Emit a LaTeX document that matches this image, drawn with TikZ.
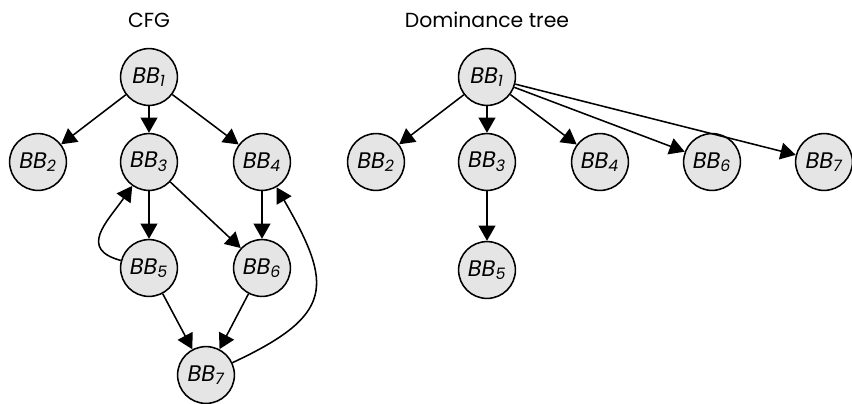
\documentclass[tikz,border=0pt]{standalone}
\usepackage{fontspec}
\setmainfont{Poppins}
\usepackage{tikz}
\usetikzlibrary{arrows.meta}

\tikzset{
  bb/.style={circle, draw, line width=1.1pt, fill=black!10, minimum size=1.42cm, inner sep=0pt,
    font=\fontsize{16}{18}\selectfont\itshape},
  edge/.style={line width=1.1pt, -{Triangle[length=0.38cm, width=0.42cm]}},
  title/.style={font=\fontsize{14.5}{16}\selectfont}
}

\begin{document}
\begin{tikzpicture}[x=0.025cm, y=-0.025cm]
      \useasboundingbox (0, 0) rectangle (852, 403);

      % CFG
      \node[title] (cfgtitle) at (149, 20) {CFG};
      \node[bb] (c1) at (149, 77) {BB\textsubscript{1}};
      \node[bb] (c2) at (38, 162) {BB\textsubscript{2}};
      \node[bb] (c3) at (149, 162) {BB\textsubscript{3}};
      \node[bb] (c4) at (262, 162) {BB\textsubscript{4}};
      \node[bb] (c5) at (149, 268) {BB\textsubscript{5}};
      \node[bb] (c6) at (262, 268) {BB\textsubscript{6}};
      \node[bb] (c7) at (206, 375) {BB\textsubscript{7}};

      \draw [edge] (c1) -- (c2);
      \draw [edge] (c1) -- (c3);
      \draw [edge] (c1) -- (c4);
      \draw [edge] (c3) -- (c5);
      \draw [edge] (c3) -- (c6);
      \draw [edge] (c4) -- (c6);
      \draw [edge] (c5) -- (c7);
      \draw [edge] (c6) -- (c7);
      \draw [edge] (c5) to[out=165, in=235, looseness=1.5] (c3);
      \draw [edge] (c7) to[out=25, in=-60, looseness=1.6] (c4);

      % Dominance tree
      \node[title] (domtitle) at (487, 20) {Dominance tree};
      \node[bb] (d1) at (487, 77) {BB\textsubscript{1}};
      \node[bb] (d2) at (376, 162) {BB\textsubscript{2}};
      \node[bb] (d3) at (487, 162) {BB\textsubscript{3}};
      \node[bb] (d4) at (600, 162) {BB\textsubscript{4}};
      \node[bb] (d6) at (712, 162) {BB\textsubscript{6}};
      \node[bb] (d7) at (824, 162) {BB\textsubscript{7}};
      \node[bb] (d5) at (487, 270) {BB\textsubscript{5}};

      \draw [edge] (d1) -- (d2);
      \draw [edge] (d1) -- (d3);
      \draw [edge] (d1) -- (d4);
      \draw [edge] (d1) -- (d6);
      \draw [edge] (d1) -- (d7);
      \draw [edge] (d3) -- (d5);

   \end{tikzpicture}
\end{document}
